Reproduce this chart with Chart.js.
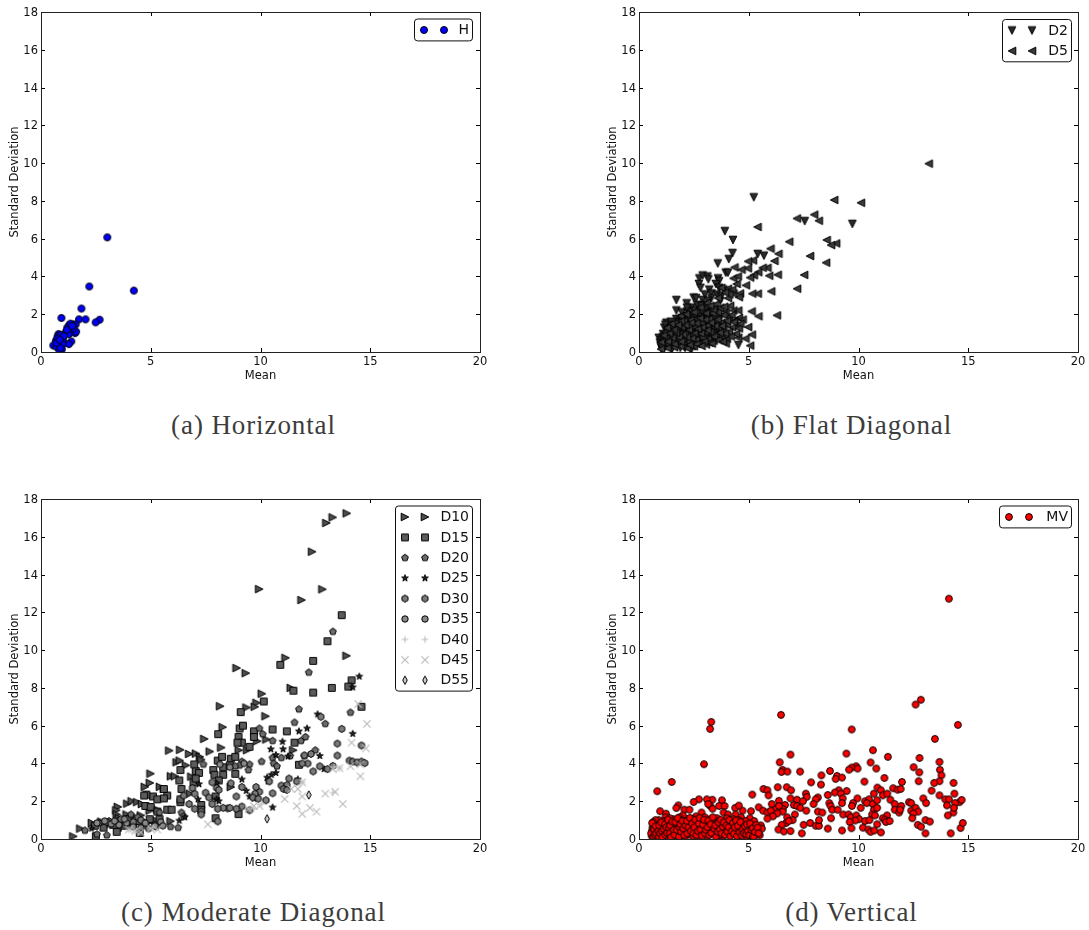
<!DOCTYPE html>
<html>
<head>
<meta charset="utf-8">
<title>Mean vs Standard Deviation</title>
<script src="https://cdn.jsdelivr.net/npm/chart.js@4/dist/chart.umd.min.js"></script>
<style>
    html, body { margin: 0; padding: 0; background: #fff; }
    #page { position: relative; width: 1089px; height: 930px; overflow: hidden; }
    canvas { position: absolute; }
    .caption {
        position: absolute; width: 491px; text-align: center; color: #3c3c3c;
        font-family: "Liberation Serif", serif; font-size: 27px; letter-spacing: 0.9px;
    }
</style>
</head>
<body>
<div id="page">
    <canvas id="chartA" width="491" height="400" style="left:0;top:0"></canvas>
    <canvas id="chartB" width="491" height="400" style="left:598px;top:0"></canvas>
    <canvas id="chartC" width="491" height="400" style="left:0;top:487px"></canvas>
    <canvas id="chartD" width="491" height="400" style="left:598px;top:487px"></canvas>
    <div class="caption" id="capA" style="left:8px;top:410px"></div>
    <div class="caption" id="capB" style="left:606px;top:410px"></div>
    <div class="caption" id="capC" style="left:8px;top:897px"></div>
    <div class="caption" id="capD" style="left:606px;top:897px"></div>
</div>
<script>
// ---------- DATA ([mean, standard deviation]) ----------
const captions = ['(a) Horizontal', '(b) Flat Diagonal', '(c) Moderate Diagonal', '(d) Vertical'];
const xTicks = [0, 5, 10, 15, 20];
const yTicks = [0, 2, 4, 6, 8, 10, 12, 14, 16, 18];
const xName = 'Mean';
const yName = 'Standard Deviation';

const pointsH = [[3.02,6.07],[2.2,3.47],[4.23,3.25],[1.84,2.3],[.93,1.8],[1.73,1.73],[2.03,1.73],[2.67,1.71],[2.49,1.57],
    [1.58,1.46],[1.44,1.46],[1.29,1.43],[1.2,1.3],[1.38,1.2],[1.12,1.04],[1.27,.95],[1.55,1],[1.6,1.08],[.8,.95],[.76,.83],
    [.91,.9],[1.38,.56],[1.27,.42],[1,.6],[.68,.6],[.56,.35],[.7,.28],[.95,.37],[.95,.14],[.83,.1],[.75,.72],[1.05,.85],
    [1.34,1.5],[1.47,1.25],[1.18,1.18],[.98,.42],[.88,.22],[.72,.48],[1.42,1.38],[.85,.65]];

const pointsD2 = [[5.23,8.19],[3.91,6.4],[4.28,5.93],[4.26,5.24],[4.09,4.92],[3.59,4.69],[5.41,5.19],[5.69,5.1],[7.55,6.93],[9.72,6.78],
    [1.7,2.75],[2.17,2.58],[2.49,2.88],[2.6,2.85],[4.53,.37],[2.75,3.9],[2.9,4.05],[3.12,4],[3.16,3.85],[2.73,3.6],[2.8,3.4],[3.2,3.3],
    [3.6,3.9],[3.65,3.75],[3.5,3.6],[3.65,3.4],[3.85,3.3],[3.95,4.2],[4.05,4.2],[3,3.05],[3.3,3.1],[3.55,3.05],[3.3,2.85],[3.75,2.95],
    [3.7,2.7],[2.9,2.75],[2.65,2.5],[3,2.5],[2.4,2.35],[1.7,2.2],[1.95,2.1],[2.2,2.15],[2.75,2.2],[3.05,2.2],[3.3,2.3],[1.25,1.55],
    [1.45,1.6],[1.7,1.75],[1.95,1.8],[2.2,1.9],[2.45,1.95],[2.75,1.85],[3,1.9],[3.35,1.95],[1.15,1.3],[1.35,1.25],[1.6,1.4],[1.85,1.45],
    [2.1,1.5],[2.35,1.55],[2.6,1.6],[2.95,1.5],[3.2,1.55],[.9,.75],[1.1,.95],[1.3,.9],[1.55,1],[1.8,1.1],[2.05,1.2],[2.3,1.15],[2.55,1.25],
    [2.85,1.2],[3.1,1.25],[.95,.5],[1.15,.6],[1.4,.65],[1.65,.75],[1.9,.85],[2.15,.8],[2.4,.9],[2.7,.85],[3,.9],[1,.25],[1.05,.1],
    [1.25,.35],[1.5,.15],[1.7,.45],[2,.5],[2.1,.22],[2.55,.3],[2.9,.5],[3.25,.6],[3.5,.75],[3.8,.7],
    [1.2,1.45],[1.3,1.1],[1.42,.85],[1.5,1.3],[1.62,1.15],[1.75,.95],[1.82,1.6],[1.9,1.25],[2,1.62],[2.02,1],[2.12,1.75],[2.18,1.3],
    [2.28,1.72],[2.32,.65],[2.42,1.42],[2.5,.7],[2.52,1.78],[2.62,1.05],[2.68,1.42],[2.8,1.02],[2.82,1.65],[2.92,2.05],[3.02,1.35],[3.08,.72],
    [3.15,1.72],[3.22,1.02],[3.28,2.08],[3.38,1.2],[3.45,1.75],[3.52,1.1],[3.55,2.25],[3.62,1.45],[3.72,1.85],[3.82,1.1],[1.02,.62],[1.12,.42],
    [1.22,.78],[1.35,.5],[1.48,.72],[1.6,.55],[1.78,.62],[1.88,.22],[2.25,.42],[2.38,.12],[.98,.35],[1.08,.78],[2.18,2.35],[2.52,2.2],[2.85,2.45],[3.15,2.72]];

const pointsD5 = [[13.2,9.97],[8.89,8.05],[10.11,7.9],[7.98,7.27],[8.19,6.95],[7.19,7.07],[5.4,6.62],[6.84,5.84],[8.55,5.93],[8.98,5.75],
    [8.75,5.66],[7.79,5.08],[8.52,4.73],[7.52,4.08],[7.2,3.35],[6.35,5.2],[5.99,5.47],[6.17,4.82],[6.32,4.09],[5.93,4.04],[6.02,3.21],
    [6.28,1.94],[5.44,1.89],[5.13,2.15],[4.97,1.32],[5.14,.92],[4.85,.71],[5.06,.34],[4.52,.76],[5.19,4.85],[4.97,4.8],[5.85,4.46],
    [5.63,4.46],[5.43,4.22],[5.23,4.06],[5.06,3.94],[4.96,4.43],[4.67,4.36],[4.35,4.48],[4.87,3.53],[5.41,3.09],[5.16,3.09],[4.6,3.1],
    [4.55,2.9],[4.3,3.1],[4.45,3.6],[4.3,3.9],[4.5,4],[4.05,3.35],[3.75,3.4],[4.25,3.3],[4.15,2.45],[4.3,2.2],[3.95,2.15],[4.55,1.8],
    [4.35,1.65],[4.1,1.85],[3.85,1.95],[3.6,2.1],[3.35,2.05],[4.5,1.4],[4.25,1.3],[4,1.45],[3.75,1.55],[3.5,1.65],[3.2,1.75],[4.55,1.25],
    [4.1,1.05],[3.85,1.2],[3.6,1.25],[3.35,1.35],[3.1,1.4],[2.85,1.55],[2.6,1.75],[2.35,1.7],[2.05,1.65],[4,.7],[3.95,.45],[3.75,.85],
    [3.5,.95],[3.25,1.05],[3,1.05],[2.75,1.1],[2.5,1.3],[2.25,1.35],[1.95,1.3],[1.7,1.25],[1.45,1.15],[1.2,1.05],[3.4,.6],[3.15,.7],
    [2.9,.75],[2.6,.65],[2.35,.95],[2.1,1],[1.85,.95],[1.6,.85],[1.35,.75],[1.1,.65],[3.05,.4],[2.75,.45],[2.5,.3],[2.25,.55],[2,.7],
    [1.75,.6],[1.5,.5],[1.25,.45],[1.05,.3],[2.2,.2],[1.9,.3],[1.6,.25],[1.3,.2],[1,.15],[1.4,1.4],[1.65,1.55],[1.9,1.9],[2.15,2],
    [2.5,2.1],[2.8,2.35],[3.1,2.6],[3.45,2.5],[3.05,2.05],[3.7,2.35],[4.05,2.85],
    [4.42,.95],[4.32,1.58],[4.22,1.95],[4.18,.82],[4.02,1.65],[3.92,.98],[3.88,2.4],[3.78,1.38],[3.68,1.02],[3.58,1.72],[3.48,1.38],[3.42,.82],[3.38,2.25],[3.28,1.55],
    [3.22,.48],[3.12,1.15],[3.02,1.72],[2.98,.55],[2.88,1.3],[2.82,.98],[2.78,1.78],[2.68,1.22],[2.62,1.52],[2.52,.98],[2.42,.72],[2.38,1.55],[2.28,1.18],[2.18,.78],
    [2.12,1.42],[2.02,.92],[1.92,1.62],[1.82,.78],[1.78,1.42],[1.68,1.02],[1.58,1.18],[1.52,.75],[1.48,1.48],[1.38,.98],[1.28,1.28],[1.22,.72],[1.12,.88],[1.02,.52],
    [1.32,.55],[1.62,.42],[1.92,.55],[2.32,.38],[2.62,.42],[2.85,.32],[3.32,.45],[3.62,.62],[3.82,.55],[4.72,1.72],[4.62,1.5],[4.52,2.2],[4.12,3.05],[3.92,3.15],[3.6,2.85],[3.25,2.45]];

const pointsD10 = [[13.93,17.24],[13.29,17.03],[13,16.73],[12.35,15.21],[12.82,13.22],[9.94,13.23],[11.87,12.65],[13.92,9.7],[11.14,9.59],
    [8.91,9.05],[9.33,8.78],[11.38,8],[10.06,7.69],[8.16,7.03],[9.36,6.96],[9.82,7.21],[9.74,7],[10.23,6.5],[8.28,5.92],[7.44,5.3],[9.85,5.18],
    [10.27,5.27],[8.21,4.84],[7.69,4.63],[5.84,4.68],[6.34,4.72],[6.75,4.5],[7.06,4.52],[9.01,4.7],[9.39,4.7],[11.49,4.7],[7.24,4.35],[6.18,4.06],
    [6.32,4.15],[4.99,3.46],[5.92,3.32],[6.1,3.32],[6.85,3.3],[4.96,2.97],[4.73,2.76],[5.42,2.76],[5.6,2.65],[6.79,2.4],[8.65,2.75],[3.93,1.87],
    [4.13,2],[3.5,1.7],[3.43,1.52],[3.45,1.3],[4.38,1.95],[4.6,1.85],[2.32,.85],[1.79,.55],[1.47,.14],[5.9,.94],[2.75,.92],[3.1,.85],[3.55,1.1],
    [3.9,1.3],[4.2,1.2],[4.55,1.25],[4.95,1.5],[5.3,1.55],[2.9,.65],[3.3,.75],[3.75,.95],[4.1,.85],[4.5,.95],[4.85,.85],[5.2,1],[7.3,4.2],[6.6,3.9]];

const pointsD15 = [[13.7,11.85],[13.05,10.47],[10.9,9.22],[12.4,9.43],[14.15,8.4],[14,8.07],[13.25,8],[11.5,7.85],[12.4,7.75],[10.15,7.28],
    [9.1,6.72],[14.6,7],[9.05,5.85],[9.2,6],[9.7,5.7],[10.55,5.8],[11.2,5.7],[8.07,5.55],[9.7,5.4],[9,5.4],[9.15,5.1],[8.95,5.1],[9.5,4.88],[11.55,5.1],
    [7.05,3.6],[6.35,3.65],[6.98,3.95],[8.05,4.15],[8.25,4.35],[8.65,4.25],[8.85,4.35],[7.85,3.65],[7.9,3.4],[8.3,3.8],[8.6,3.9],[8.85,3.45],[8.3,3.4],[11.75,3.93],
    [7.2,3.5],[6.95,3],[6.3,3.1],[6.4,2.65],[7.05,3.2],[7.95,2.25],[5.75,2.3],[5.1,2.25],[5.3,2.1],[4.8,2.35],[5.6,2.65],[4.7,2.3],[5.6,2.15],[6.35,1.95],[5.75,1.55],
    [5.95,1.55],[7.3,1.8],[7.3,1.55],[7.95,1.1],[9,1.32],[4.75,1.75],[5,1.7],[5.3,1.45],[4.95,1.05],[5.4,1.05],[3.5,.6],[2.45,.7],[2.85,.6],[3.35,.75],[3.45,.38],[4.5,.32],[2.5,.15],
    [3.85,.7],[4.2,.8],[3.95,1.05],[4.45,.95],[6.35,2.1],[8.1,3.1]];

const pointsD20 = [[13.3,10.98],[12.2,8.82],[11.75,6.87],[11.55,6.17],[14.1,6.7],[12.95,6.1],[9.95,5.85],[10.1,5.55],[10.55,5.2],[11.85,5.2],[12.05,5.4],
    [10.05,4.1],[11.35,4.4],[12,4.4],[12.5,4.7],[10.55,4.3],[10.95,4.3],[9.15,4.1],[9.5,3.95],[9.05,3.9],[8.85,3.85],[7.4,3.95],[10.6,4],[10.75,3.85],[9.45,3.65],
    [6.25,.6],[5.9,.65],[6.4,1.4],[6.5,1.2],[5.4,1.4],[4.1,1.3],[4.4,1.15],[3.1,.95],[3.5,.95],[2.65,.85],[2,.45],[2.55,.25],[3,.2],[4.7,.7],[5.2,.75]];

const pointsD25 = [[14.5,8.6],[14.2,8.03],[12.6,6.6],[12.12,5.85],[11.75,5.7],[14.2,5.57],[11,5.15],[10.47,4.75],[11.03,4.75],[10.7,4.45],[11.25,4.37],[12.7,4.4],
    [10.3,3.25],[10.5,3.4],[10.7,3.5],[10.35,3.05],[9.15,3.15],[11.7,3.15],[8,2.95],[9.35,2.55],[9.5,2.25],[8,2.1],[8.1,2],[9.7,2.15],[10.55,1.67],[6.3,.97],[6.55,1.15],
    [2.3,.55],[7.2,2.9],[7.15,2.1],[12.9,3.7]];

const pointsD30 = [[12.75,6.47],[13.7,5.83],[13.5,5.05],[14.6,4.95],[13.5,4.42],[12.3,4.5],[12,4.43],[12.15,4],[11.9,4],[12.4,3.58],[12.7,3.85],[13.3,3.87],[13.05,3.7],
    [11.3,3.2],[11.65,3.05],[10.4,3.05],[10.95,2.83],[11.2,2.85],[11.05,2.65],[11.2,2.6],[10.55,2.42],[9.95,2.5],[9.75,2.4],[9.65,2.2],[10.25,2.05],[9.15,2.75],[8.9,2.25],[9.9,2.13],
    [9.15,1.72],[9.5,1.52],[8.9,1.6],[8.5,1.62],[8.6,1.65],[8.3,1.65],[8.05,1.6],[8.05,.93],[8,2.7],[7.8,3],[8.1,2.6],[8.65,2.95],[7.5,2.45],[7,2.4],[6.75,1.85],[7,1.6],[7.3,1.45],[7.3,1.3],
    [7.65,2.2],[7.8,1.85],[4.2,.9],[4.55,1],[3,.9],[3.65,1.05],[14.05,4.15],[14.2,4.1],[14.4,4.05],[14.6,4.1],[14.75,4.02],[9.8,2.75],[6.5,2.3],[6.9,2.7]];

const pointsD35 = [[2.55,.85],[2.9,.95],[3.2,.8],[3.55,.75],[3.9,.85],[4.2,.65],[4.55,.6],[4.9,.55],[5.25,.65],[5.2,.7],[5.45,.9],[5.55,.7],[3.35,.95],[3.8,1.05],[4.75,.85],[8.6,3.8],[8.15,3.95],[9.25,4]];

const pointsD40 = [[11.9,3],[13.3,2.45],[13.35,3.8],[13.6,3.75],[9.7,1.6],[10.05,1.85],[4,.5],[4.3,.4],[5.1,.6]];

const pointsD45 = [[14.45,7.15],[14.85,6.1],[14.15,5.1],[14.8,4.8],[14.55,3.32],[14.1,3.85],[14.55,3.95],[13.6,3.75],[13.3,3.7],[11.4,2.65],[11.7,2.65],[11.9,3],[11.9,2.25],
    [12.95,2.4],[13.4,2.5],[13.75,1.85],[11.1,2.12],[11.65,1.75],[11.9,1.33],[12.25,1.65],[12.55,1.45],[9.95,1.75],[9.7,1.75],[9.45,1.6],[7.6,.78],[4,.5],[4.3,.42],[4.55,.35],[5,.55],[5.3,.5]];

const pointsD55 = [[12.2,2.33],[10.3,1.07]];

const pointsMV = [[14.12,12.72],[12.84,7.37],[12.6,7.12],[6.47,6.57],[3.29,6.2],[3.24,5.83],[14.53,6.04],[9.69,5.8],[13.48,5.3],[2.96,3.96],[1.49,3.02],[.83,2.53],
    [10.66,4.7],[9.45,4.52],[6.9,4.47],[11.34,4.35],[12.78,4.29],[13.69,4.08],[6.41,4.06],[10.55,4.05],[9.89,3.85],[9.69,3.78],[9.57,3.67],[9.96,3.73],[10.81,3.73],[12.51,3.8],
    [13.71,3.66],[6.54,3.66],[6.49,3.55],[6.76,3.57],[7.34,3.57],[8.7,3.6],[12.77,3.53],[8.31,3.37],[13.78,3.37],[9.02,3.34],[8.96,3.18],[9.25,3.25],[11.18,3.23],[7.84,3],
    [10.27,3.04],[11.98,3.02],[12.74,3.06],[13.69,3.06],[13.45,2.97],[14.33,2.97],[8.29,2.88],[6.32,2.74],[6.73,2.74],[6.93,2.58],[5.67,2.65],[5.85,2.58],[10.86,2.72],[11.02,2.58],
    [11.58,2.69],[11.78,2.61],[11.92,2.65],[13.33,2.56],[9.46,2.54],[9.1,2.58],[8.92,2.46],[9.2,2.4],[7.6,2.4],[5.16,2.35],[5.9,2.31],[8.6,2.33],[10.7,2.4],[11.11,2.31],[11.31,2.4],
    [13.69,2.31],[14.37,2.4],[7.64,2.23],[8.15,2.2],[8.05,2.1],[6.9,2.15],[7.2,2.08],[7.47,2],[6.37,2.02],[9.28,2.15],[9.95,2.15],[9.75,1.9],[10.3,2],[10.48,2.1],[10.38,1.9],[10.65,1.85],[10.85,2.05],
    [11.45,2.08],[11.65,1.85],[11.95,1.75],[12.3,1.95],[12.4,1.9],[12.95,2.15],[13.08,1.9],[13.95,2.1],[14.12,2.1],[14.6,1.95],[14.7,2.07],[14.4,1.9],[14.03,1.78],[8.67,1.9],[8.73,1.75],[8.8,1.55],
    [9.05,1.55],[9.25,1.9],[9.7,1.75],[7.05,1.8],[7.2,1.75],[7.35,1.65],[7.95,1.85],[7.62,1.5],[6.2,1.6],[6.65,1.8],[6.55,1.6],[6.37,1.75],[6.05,1.85],[5.45,1.68],[5.65,1.5],[5.85,1.4],
    [6,1.5],[8.15,1.45],[8.35,1.4],[7.1,1.3],[6.55,1.45],[6.3,1.35],[6.1,1.2],[5.85,1.08],[10.1,1.65],[10.7,1.55],[10.85,1.65],[11.65,1.55],[11.85,1.4],[11.9,1.55],[12.4,1.5],[12.6,1.65],
    [12.72,1.45],[12.5,1.35],[14.32,1.4],[14.35,1.65],[14.07,1.25],[11.3,1.25],[11.1,1.1],[11.2,1.02],[11.25,.9],[11.42,.95],[10.62,1.3],[10.75,1.25],[9.3,1.3],[9.55,1.3],[9.65,1.15],[9.9,1.25],
    [10.03,1.05],[9.85,.98],[9.6,.9],[10.3,.95],[10.5,1],[10.85,.78],[7,1],[6.75,1.15],[6.7,.85],[6.5,.75],[6.35,.5],[6.6,.4],[6.9,.42],[6.82,.95],[7.5,.75],[7.8,.85],[8.05,.7],[8.2,.7],[8.2,1],
    [8.75,1.1],[8.6,.55],[9.25,.45],[9.68,.57],[10.2,.6],[10.45,.5],[10.55,.38],[10.72,.45],[11.02,.35],[7.42,.3],[12.45,1.1],[12.7,.75],[12.85,.65],[13.05,1],[13.25,.92],[13.05,.3],[14.2,.3],[14.65,.58],[14.75,.85],
    [5.1,1.47],[4.72,1.5],[4.38,1.65],[4.55,1.77],[3.78,2.05],[3.34,2.08],[3.09,2.1],[2.73,2.1],[2.49,1.96],[1.79,1.78],[1.7,1.64],[.96,1.47],[1.23,1.34],[2.07,1.55],[2.3,1.55],[3.25,1.75],[3.35,1.6],
    [3.15,1.85],[2.85,1.4],[3.65,1.75],[3.9,1.75],[3.85,1.4],[4.05,1.3],[4.4,1.3],[4.65,1.15],[5.05,1.1],[5.25,.95],[5.55,.72],[5.6,.55],[5.5,.2],[5.35,.45],[5.15,.3],[5,.6],[4.85,.95],[4.75,.75],[4.6,.55],
    [4.4,.4],[4.55,.15],[4.9,.1],[5.1,.15],[4.3,1.05],[4.1,.85],[3.9,.95],[3.95,.5],[4.25,.6],[4.05,.25],[3.8,.15],[3.7,.75],[3.55,1.1],[3.4,.85],[3.3,.55],[3.45,.35],[3.65,.2],[3.25,1.05],[3.1,.85],[3.05,.6],
    [2.9,.35],[3.1,.15],[2.75,.1],[2.7,.6],[2.85,.95],[2.6,1.2],[2.65,.85],[2.45,1.05],[2.35,.75],[2.55,.45],[2.3,.25],[2.1,.1],[2.15,.6],[2.05,.85],[2,1.25],[1.85,1.15],[1.8,.85],[1.9,.5],[1.75,.3],[1.6,.1],
    [1.7,.7],[1.55,1.05],[1.45,.85],[1.5,.6],[1.55,.35],[1.35,.15],[1.3,.45],[1.3,.75],[1.2,1.15],[1.15,.95],[1.1,.65],[1.15,.4],[1.25,.1],[1.05,.2],[1,.5],[.98,.78],[.9,1],[.85,.65],[.82,.85],[.8,.4],[.85,.2],
    [.75,.1],[.72,.55],[.7,.8],[.65,.3],[.62,.62],[.6,.45],[.58,.15],[.55,.3],[2.25,1.05],[2.4,.95],[2.85,.75],[3.35,.7],[3.75,.5],[4.2,.8],[4.45,.85],[4.85,.45],[5.2,.7],[3.55,.55],[3.2,.4],[2.45,.15],[1.95,.3],
    [1.6,.75],[1.4,1.1],[1.9,1],[2.6,.65],[3,1.15],[3.6,.95],[4,1.1],[4.55,1],[5.3,.2],[2.2,.45],[2.9,.6],[1.1,.3],[.95,.1],[.75,1],[.65,.9],[.7,.7],
    [.6,.85],[.66,.12],[.68,.5],[.72,.22],[.76,.68],[.78,.3],[.88,.42],[.9,.12],[.92,.72],[.96,.3],[1.02,.88],[1.04,.42],[1.06,.08],[1.12,.52],[1.18,.78],[1.2,.22],[1.24,.62],[1.28,.32],[1.32,1.02],[1.36,.58],[1.4,.3],[1.42,.72],[1.46,.1],[1.52,.92],[1.58,.48],
    [1.62,.22],[1.66,.9],[1.72,.48],[1.76,1.1],[1.82,.12],[1.84,.62],[1.88,.78],[1.92,.38],[1.98,.95],[2.02,.55],[2.06,.2],[2.12,.72],[2.18,.95],[2.2,.3],[2.26,.62],[2.32,1.12],[2.36,.42],[2.42,.82],[2.48,.3],[2.52,.62],[2.56,1.02],[2.62,.2],[2.68,.42],[2.72,.82],[2.76,1.12],
    [2.8,.5],[2.86,.18],[2.92,.75],[2.96,1.02],[3,.3],[3.04,.48],[3.12,.62],[3.16,.98],[3.2,.2],[3.26,.78],[3.3,.32],[3.36,1.15],[3.42,.55],[3.48,.72],[3.5,.12],[3.58,.38],[3.62,.88],[3.68,.5],[3.72,1.02],[3.76,.3],[3.82,.65],[3.86,.88],[3.92,.22],[3.98,.72],[4.02,.4],
    [4.08,.62],[4.12,1],[4.16,.15],[4.22,.42],[4.28,.85],[4.32,.28],[4.36,.62],[4.42,.98],[4.46,.15],[4.5,.7],[4.58,.35],[4.62,.9],[4.68,.18],[4.72,.5],[4.78,.3],[4.82,.68],[4.88,.25],[4.92,.78],[4.96,.42],[5.02,.2],[5.06,.82],[5.12,.48],[5.18,.58],[5.22,.12],[5.28,.38],[5.34,.75],[5.4,.6],[5.45,.3]];

// ---------- MARKERS ----------
// every marker is a small canvas so shapes matplotlib has and Chart.js lacks are available
const triangleDown = [[0,1],[-1,-1],[1,-1]];
const triangleLeft = [[-1,0],[1,-1],[1,1]];
const triangleRight = [[1,0],[-1,-1],[-1,1]];
const square = [[-1,-1],[1,-1],[1,1],[-1,1]];
const pentagon = [[0,-1.1],[1.05,-.34],[.65,.89],[-.65,.89],[-1.05,-.34]];
const hexagon = [[0,-1.1],[.95,-.55],[.95,.55],[0,1.1],[-.95,.55],[-.95,-.55]];
const star = [[0,-1.25],[.3,-.4],[1.2,-.4],[.48,.15],[.74,1],[0,.5],[-.74,1],[-.48,.15],[-1.2,-.4],[-.3,-.4]];
const thinDiamond = [[0,-1.3],[.72,0],[0,1.3],[-.72,0]];

function makeMarker(shape, fill, size, edge) {
    const m = document.createElement('canvas');
    m.width = 16;
    m.height = 16;
    const c = m.getContext('2d');
    c.translate(8, 8);
    c.lineWidth = 1;
    c.fillStyle = fill;
    c.strokeStyle = edge || '#000';
    c.beginPath();
    if (shape === 'circle') {
        c.arc(0, 0, size, 0, Math.PI * 2);
    } else if (shape === 'plus') {
        c.moveTo(-size, 0); c.lineTo(size, 0); c.moveTo(0, -size); c.lineTo(0, size);
        c.stroke();
        return m;
    } else if (shape === 'x') {
        c.lineWidth = 1.2;
        c.moveTo(-size, -size); c.lineTo(size, size); c.moveTo(size, -size); c.lineTo(-size, size);
        c.stroke();
        return m;
    } else {
        shape.forEach((p, i) => {
            if (i === 0) c.moveTo(p[0] * size, p[1] * size);
            else c.lineTo(p[0] * size, p[1] * size);
        });
        c.closePath();
    }
    c.fill();
    c.stroke();
    return m;
}

// ---------- PLUGIN: FRAME, INWARD TICKS, LEGEND ----------
const framePlugin = {
    id: 'frame',
    afterDatasetsDraw(chart, args, opts) {
        const ctx = chart.ctx;
        const a = chart.chartArea;
        ctx.save();

        // ticks on all four sides point inward
        ctx.strokeStyle = '#000';
        ctx.lineWidth = 1;
        ctx.beginPath();
        chart.scales.x.ticks.forEach(t => {
            const x = Math.round(chart.scales.x.getPixelForValue(t.value)) + 0.5;
            ctx.moveTo(x, a.bottom); ctx.lineTo(x, a.bottom - 4);
            ctx.moveTo(x, a.top); ctx.lineTo(x, a.top + 4);
        });
        chart.scales.y.ticks.forEach(t => {
            const y = Math.round(chart.scales.y.getPixelForValue(t.value)) + 0.5;
            ctx.moveTo(a.left, y); ctx.lineTo(a.left + 4, y);
            ctx.moveTo(a.right, y); ctx.lineTo(a.right - 4, y);
        });
        ctx.stroke();

        ctx.strokeStyle = '#222';
        ctx.strokeRect(a.left + 0.5, a.top + 0.5, a.right - a.left, a.bottom - a.top);

        // legend box with two markers per row
        const rowH = 20.4;
        const rows = chart.data.datasets;
        const top = a.top + opts.top;
        const h = rows.length * rowH + 1.5;
        ctx.fillStyle = '#fff';
        ctx.strokeStyle = '#111';
        ctx.lineWidth = 1;
        ctx.beginPath();
        ctx.roundRect(opts.left + 0.5, top + 0.5, opts.right - opts.left, h, 3);
        ctx.fill();
        ctx.stroke();

        ctx.fillStyle = '#111';
        ctx.font = '14px "DejaVu Sans"';
        ctx.textBaseline = 'middle';
        rows.forEach((ds, i) => {
            const y = top + 11.5 + i * rowH;
            ctx.drawImage(ds.pointStyle, opts.left + 2, y - 8);
            ctx.drawImage(ds.pointStyle, opts.left + 22, y - 8);
            ctx.textAlign = 'right';
            ctx.fillText(ds.label, opts.right - 3, y + 0.5);
        });
        ctx.restore();
    }
};

// ---------- CHART BUILDER ----------
function drawPanel(id, series, legendBox) {
    const datasets = series.map((s, i) => ({
        label: s.label,
        data: s.points.map(p => ({ x: p[0], y: p[1] })),
        pointStyle: s.marker,
        pointRadius: 4,
        pointHoverRadius: 4,
        showLine: false,
        clip: 0,
        order: series.length - i
    }));

    new Chart(document.getElementById(id).getContext('2d'), {
        type: 'scatter',
        data: { datasets },
        plugins: [framePlugin],
        options: {
            responsive: false,
            animation: false,
            layout: { padding: { top: 12, right: 11, left: 0, bottom: 0 } },
            plugins: {
                legend: { display: false },
                tooltip: { enabled: false },
                frame: legendBox
            },
            scales: {
                x: {
                    type: 'linear',
                    min: xTicks[0],
                    max: xTicks[xTicks.length - 1],
                    border: { display: false },
                    grid: { display: false, drawTicks: false },
                    afterBuildTicks: axis => { axis.ticks = xTicks.map(v => ({ value: v })); },
                    afterFit: axis => { axis.height = 48; },
                    ticks: { color: '#111', font: { family: 'DejaVu Sans', size: 11.5 }, padding: 3, maxRotation: 0 },
                    title: { display: true, text: xName, color: '#111', font: { family: 'DejaVu Sans', size: 11.5 }, padding: { top: 0, bottom: 17 } }
                },
                y: {
                    type: 'linear',
                    min: yTicks[0],
                    max: yTicks[yTicks.length - 1],
                    border: { display: false },
                    grid: { display: false, drawTicks: false },
                    afterBuildTicks: axis => { axis.ticks = yTicks.map(v => ({ value: v })); },
                    afterFit: axis => { axis.width = 41; },
                    ticks: { color: '#111', font: { family: 'DejaVu Sans', size: 11.5 }, padding: 3, labelOffset: 1 },
                    title: { display: true, text: yName, color: '#111', font: { family: 'DejaVu Sans', size: 11.5 }, padding: { top: 8, bottom: 0 } }
                }
            }
        }
    });
}

// ---------- START ----------
['capA', 'capB', 'capC', 'capD'].forEach((id, i) => {
    document.getElementById(id).textContent = captions[i];
});

drawPanel('chartA', [
    { label: 'H', points: pointsH, marker: makeMarker('circle', '#0000ff', 3.5) }
], { left: 414, right: 472, top: 6.5 });

drawPanel('chartB', [
    { label: 'D2', points: pointsD2, marker: makeMarker(triangleDown, '#2a2a2a', 3.8) },
    { label: 'D5', points: pointsD5, marker: makeMarker(triangleLeft, '#3a3a3a', 3.8) }
], { left: 404, right: 473, top: 7 });

drawPanel('chartC', [
    { label: 'D10', points: pointsD10, marker: makeMarker(triangleRight, '#4d4d4d', 3.8) },
    { label: 'D15', points: pointsD15, marker: makeMarker(square, '#5c5c5c', 3.4) },
    { label: 'D20', points: pointsD20, marker: makeMarker(pentagon, '#6b6b6b', 3.2) },
    { label: 'D25', points: pointsD25, marker: makeMarker(star, '#222', 2.8) },
    { label: 'D30', points: pointsD30, marker: makeMarker(hexagon, '#7a7a7a', 3.2) },
    { label: 'D35', points: pointsD35, marker: makeMarker('circle', '#888', 3.2) },
    { label: 'D40', points: pointsD40, marker: makeMarker('plus', '#bbb', 3.4, '#bbb') },
    { label: 'D45', points: pointsD45, marker: makeMarker('x', '#bbb', 3.6, '#bbb') },
    { label: 'D55', points: pointsD55, marker: makeMarker(thinDiamond, '#ccc', 3.2) }
], { left: 395, right: 472, top: 6.5 });

drawPanel('chartD', [
    { label: 'MV', points: pointsMV, marker: makeMarker('circle', '#ff0000', 3.4) }
], { left: 401, right: 473, top: 6.5 });
</script>
</body>
</html>
